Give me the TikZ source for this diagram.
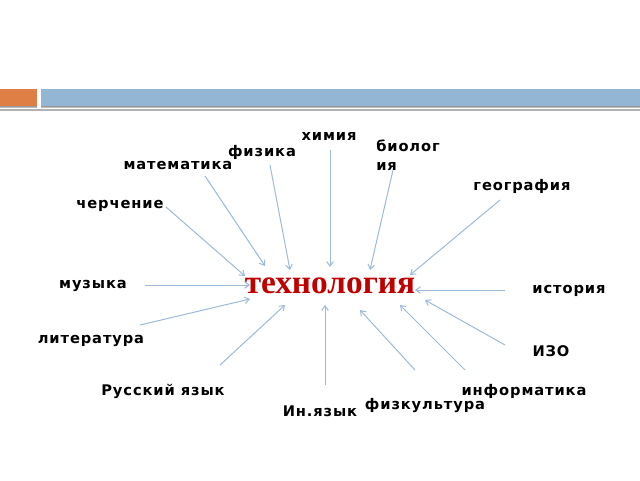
\documentclass[tikz,border=0pt]{standalone}
\usepackage{fontspec}
\setsansfont{DejaVu Sans}[LetterSpace=6]
\newfontfamily\titlefont{Liberation Serif}
\usetikzlibrary{arrows.meta}
\definecolor{barorange}{HTML}{E07F45}
\definecolor{barblue}{HTML}{93B6D4}
\definecolor{linkblue}{HTML}{9DBBD9}
\definecolor{titlered}{HTML}{C00000}
\tikzset{
    subj/.style={font=\sffamily\bfseries\fontsize{11}{14.5}\selectfont, inner sep=0pt},
    link/.style={draw=linkblue, line width=0.75pt, -{Straight Barb[length=3.5pt,width=5pt]}}
}
\begin{document}
\begin{tikzpicture}[x=0.75pt,y=-0.75pt]
    \useasboundingbox [fill=white] (0,0) rectangle (640,480);
    % header bar
    \fill [barorange] (0,89) rectangle (37,107);
    \fill [barblue] (41,89) rectangle (640,107);
    \fill [gray!80] (0,106) rectangle (37,107.5) (41,106) rectangle (640,107.5);
    \fill [gray!60] (0,108.5) rectangle (640,110.5);
    % centre
    \node [font=\titlefont\bfseries\fontsize{25}{30}\selectfont, text=titlered, inner sep=0pt] (tech) at (330,286) {технология};
    % subjects
    \node [subj, align=left, anchor=west] (bio) at (376,155) {биолог\\ия};
    \coordinate (bio-a) at (393,170);
    \coordinate (bio-b) at (370,270);
    \draw [link] (bio-a) -- (bio-b);
    \foreach \name/\txt/\lx/\ly/\ax/\ay/\bx/\by in {
        chem/химия/329/136/330/150/330/267,
        phys/физика/262/152/270/165/290/270,
        math/математика/178/165/205/176/265/266,
        draft/черчение/120/206/166/207/245/276,
        geo/география/522/186/500/200/410/275,
        music/музыка/93/286/145/285/250/285,
        hist/история/569/291/505/290/415/290,
        lit/литература/91/341/140/325/250/299,
        art/ИЗО/551/351/505/345/425/300,
        rus/Русский язык/163/391/220/365/285/305,
        inf/информатика/524/391/465/370/400/305,
        lang/Ин.язык/320/411/325/385/325/305,
        sport/физкультура/425/406/415/370/360/310}{
        \node [subj] (\name) at (\lx,\ly) {\txt};
        \coordinate (\name-a) at (\ax,\ay);
        \coordinate (\name-b) at (\bx,\by);
        \draw [link] (\name-a) -- (\name-b);
    }
\end{tikzpicture}
\end{document}
